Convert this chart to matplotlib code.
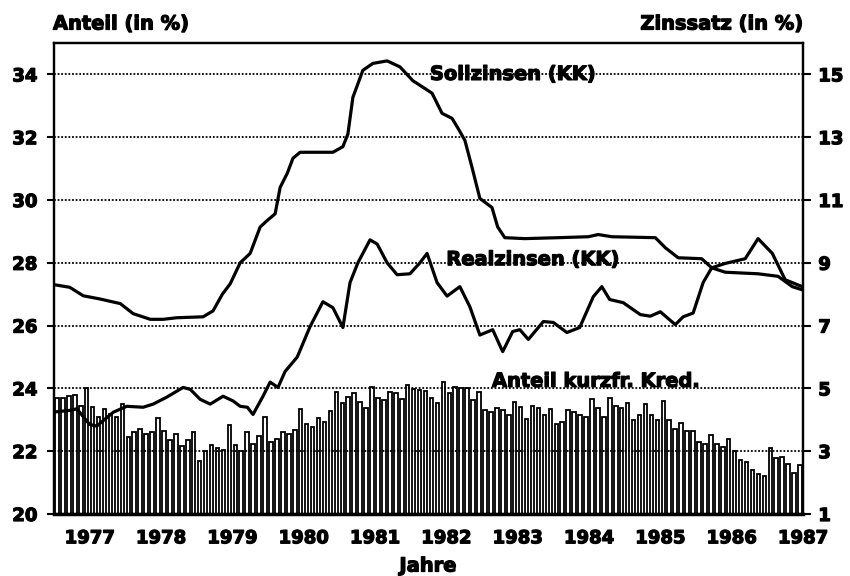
import numpy as np
import pandas as pd
import matplotlib
matplotlib.use('Agg')
import matplotlib.pyplot as plt
import matplotlib.patheffects as pe

plt.rcParams['font.family'] = ['DejaVu Sans']
plt.rcParams['font.weight'] = 'bold'

# Anteil kurzfristiger Kredite (in %), monatlich Juli 1976 - Dez 1986
anteil = [23.70, 23.70, 23.75, 23.80, 23.45, 24.00, 23.40, 23.10, 23.35, 23.20, 23.10, 23.50,
          22.45, 22.60, 22.70, 22.55, 22.60, 23.05, 22.65, 22.35, 22.55, 22.15, 22.35, 22.60,
          21.70, 22.00, 22.20, 22.10, 22.05, 22.85, 22.20, 22.00,
          22.62, 22.24, 22.50, 23.10, 22.30, 22.40, 22.62, 22.56, 22.67, 23.33, 22.86, 22.78,
          23.07, 22.94, 23.28, 23.90, 23.52, 23.73, 23.84, 23.57, 23.36, 24.03, 23.68, 23.63,
          23.90, 23.86, 23.65, 24.10, 23.97, 23.95, 23.93, 23.68,
          23.52, 24.21, 23.84, 24.05, 24.00, 24.00, 23.63, 23.90, 23.30, 23.26, 23.36, 23.30,
          23.15, 23.57, 23.41, 23.04, 23.43, 23.36, 23.15, 23.33, 22.88, 22.94, 23.31, 23.26,
          23.15, 23.10, 23.65, 23.36, 23.10, 23.68, 23.44, 23.36, 23.52,
          23.00, 23.15, 23.49, 23.15, 22.99, 23.60, 22.99, 22.72, 22.90, 22.64, 22.64, 22.30,
          22.22, 22.51, 22.22, 22.14, 22.40, 22.00, 21.71, 21.66, 21.41, 21.26, 21.20, 22.09,
          21.77, 21.82, 21.60, 21.29, 21.55]

# Sollzinsen (KK), Zinssatz in %
soll_t = [1976.51, 1976.72, 1976.91, 1977.14, 1977.43, 1977.61, 1977.85, 1978.03, 1978.22,
          1978.59, 1978.73, 1978.86, 1978.97, 1979.11, 1979.25, 1979.39, 1979.49, 1979.60,
          1979.67, 1979.77, 1979.85, 1979.95, 1980.41, 1980.55, 1980.62, 1980.69, 1980.83,
          1980.97, 1981.17, 1981.35, 1981.53, 1981.70, 1981.80, 1981.94, 1982.08, 1982.16,
          1982.26, 1982.36, 1982.47, 1982.64, 1982.72, 1982.82, 1983.10, 1983.57, 1983.99,
          1984.13, 1984.32, 1984.93, 1985.07, 1985.25, 1985.58, 1985.72, 1985.91, 1986.37,
          1986.65, 1986.85, 1986.99]
soll = [8.30, 8.22, 7.95, 7.85, 7.70, 7.38, 7.20, 7.20, 7.25,
        7.28, 7.47, 8.00, 8.33, 9.00, 9.30, 10.14, 10.35, 10.56,
        11.40, 11.85, 12.33, 12.52, 12.52, 12.70, 13.10, 14.27, 15.13,
        15.35, 15.43, 15.24, 14.80, 14.55, 14.40, 13.76, 13.60, 13.30,
        12.90, 12.04, 11.05, 10.76, 10.14, 9.80, 9.77, 9.80, 9.83,
        9.90, 9.83, 9.80, 9.48, 9.16, 9.13, 8.84, 8.70, 8.65,
        8.57, 8.24, 8.14]

# Realzinsen (KK), Zinssatz in %
real_t = [1976.51, 1976.72, 1976.82, 1977.00, 1977.10, 1977.33, 1977.52, 1977.75, 1977.89,
          1978.08, 1978.31, 1978.41, 1978.55, 1978.69, 1978.87, 1979.01, 1979.11, 1979.21,
          1979.29, 1979.43, 1979.53, 1979.64, 1979.74, 1979.91, 1980.09, 1980.27, 1980.41,
          1980.55, 1980.65, 1980.76, 1980.93, 1981.03, 1981.17, 1981.31, 1981.49, 1981.63,
          1981.73, 1981.87, 1982.01, 1982.19, 1982.33, 1982.47, 1982.65, 1982.79, 1982.93,
          1983.03, 1983.15, 1983.36, 1983.50, 1983.69, 1983.87, 1984.06, 1984.18, 1984.29,
          1984.48, 1984.72, 1984.86, 1985.00, 1985.21, 1985.32, 1985.46, 1985.60, 1985.72,
          1985.91, 1986.19, 1986.37, 1986.57, 1986.75, 1986.99]
real = [4.25, 4.30, 4.35, 3.85, 3.80, 4.24, 4.43, 4.40, 4.50,
        4.72, 5.03, 4.97, 4.65, 4.50, 4.75, 4.60, 4.43, 4.40,
        4.17, 4.75, 5.20, 5.03, 5.54, 6.00, 6.97, 7.76, 7.57,
        6.94, 8.37, 9.00, 9.73, 9.60, 9.00, 8.62, 8.65, 9.00,
        9.30, 8.37, 7.94, 8.24, 7.60, 6.70, 6.87, 6.17, 6.81,
        6.87, 6.56, 7.13, 7.10, 6.78, 6.94, 7.92, 8.24, 7.83,
        7.73, 7.35, 7.30, 7.44, 7.03, 7.28, 7.40, 8.37, 8.84,
        8.98, 9.13, 9.77, 9.30, 8.46, 8.24]

jahre = list(range(1977, 1988))

months = pd.period_range('1976-07', '1986-12', freq='M')
x_bar = months.year + (months.month - 0.5) / 12

heavy = [pe.withStroke(linewidth=0.9, foreground='black')]

fig = plt.figure(figsize=(8.5, 5.76), dpi=100)
ax = fig.add_axes([54 / 850, 1 - 514 / 576, 749 / 850, 471 / 576])
ax2 = ax.twinx()

ax.bar(x_bar, np.array(anteil) - 20, bottom=20, width=0.6 / 12,
       facecolor='white', edgecolor='black', linewidth=1.3, zorder=1)
ax.set_xlim(1976.5, 1987.0)
ax.set_ylim(20, 35)
ax.set_yticks(range(20, 35, 2))
ax.set_xticks(jahre)
ax.grid(axis='y', linestyle=(0, (1, 1)), color='black', linewidth=1.3)
ax.set_axisbelow(False)

ax2.plot(soll_t, soll, color='black', linewidth=2.3, solid_joinstyle='round')
ax2.plot(real_t, real, color='black', linewidth=2.3, solid_joinstyle='round')
ax2.set_ylim(1, 16)
ax2.set_yticks(range(1, 16, 2))

for a in (ax, ax2):
    for s in a.spines.values():
        s.set_linewidth(1.6)
ax.spines['bottom'].set_linewidth(2.5)

ax.tick_params(axis='y', direction='out', length=5, width=1.5, pad=7, labelsize=13)
ax.tick_params(axis='x', length=0, pad=11, labelsize=13)
ax2.tick_params(axis='y', direction='out', length=6, width=1.5, pad=5, labelsize=13)
for lab in ax.get_xticklabels() + ax.get_yticklabels() + ax2.get_yticklabels():
    lab.set_path_effects(heavy)

ax2.text(1981.77, 15, 'Sollzinsen (KK)', fontsize=14, fontweight='bold', va='center', ha='left',
         path_effects=heavy)
ax2.text(1982.0, 9.1, 'Realzinsen (KK)', fontsize=14, fontweight='bold', va='center', ha='left',
         path_effects=heavy)
ax.text(1982.64, 24.05, 'Anteil kurzfr. Kred.', fontsize=14, fontweight='bold', va='baseline', ha='left',
        path_effects=heavy)

fig.text(53 / 850, 1 - 24 / 576, 'Anteil (in %)', fontsize=14, fontweight='bold', ha='left', va='center',
         path_effects=heavy)
fig.text(803 / 850, 1 - 24 / 576, 'Zinssatz (in %)', fontsize=14, fontweight='bold', ha='right', va='center',
         path_effects=heavy)
fig.text(428 / 850, 1 - 566 / 576, 'Jahre', fontsize=14, fontweight='bold', ha='center', va='center',
         path_effects=heavy)

fig.savefig('out.png', dpi=100)
